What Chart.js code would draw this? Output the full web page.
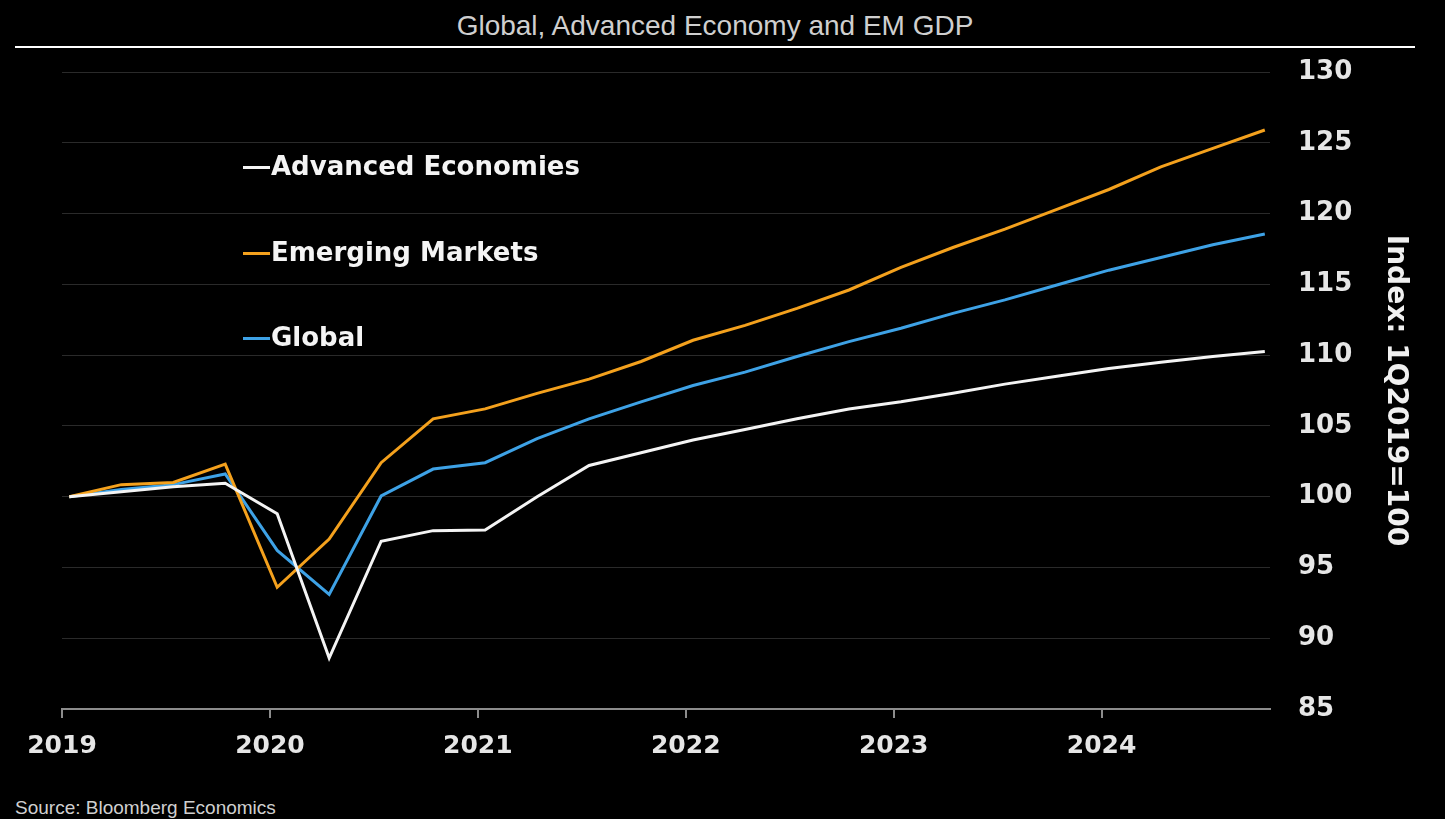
<!DOCTYPE html>
<html>
<head>
<meta charset="utf-8">
<script src="https://cdn.jsdelivr.net/npm/chart.js@4.4.1/dist/chart.umd.min.js"></script>
<style>
  body { margin: 0; background: #000; width: 1445px; height: 819px; overflow: hidden; position: relative; }
  #title { position: absolute; left: 15px; top: 0; width: 1400px; height: 46px; text-align: center;
           border-bottom: 2px solid #fff; color: #cfcfcf; font: 28px "Liberation Sans", Arial, sans-serif; line-height: 52px; }
  #wrap { position: absolute; left: 0; top: 50px; width: 1445px; height: 719px; }
  #source { position: absolute; left: 15px; top: 797px; color: #d0d0d0; font: 19px "Liberation Sans", Arial, sans-serif; line-height: 22px; }
  .leg { position: absolute; left: 243px; height: 30px; color: #f4f4f4;
         font: bold 26px "DejaVu Sans", Verdana, sans-serif; line-height: 30px; white-space: nowrap; }
  .leg i { display: inline-block; width: 27px; height: 3px; vertical-align: middle; margin-right: 1px; }
</style>
</head>
<body>
<div id="title">Global, Advanced Economy and EM GDP</div>
<div id="wrap"><canvas id="gdpChart"></canvas></div>
<div id="legend"></div>
<div id="source">Source: Bloomberg Economics</div>
<script>
// trimestres 1Q2019 .. 4Q2024
const quarters = ['1Q19','2Q19','3Q19','4Q19','1Q20','2Q20','3Q20','4Q20','1Q21','2Q21','3Q21','4Q21',
                  '1Q22','2Q22','3Q22','4Q22','1Q23','2Q23','3Q23','4Q23','1Q24','2Q24','3Q24','4Q24'];
const advanced = [100, 100.35, 100.7, 100.95, 98.8, 88.6, 96.85, 97.6, 97.65, 100.0, 102.2, 103.1,
                  104.0, 104.75, 105.5, 106.2, 106.7, 107.3, 107.95, 108.5, 109.05, 109.5, 109.9, 110.25];
const emerging = [100, 100.85, 101.0, 102.3, 93.6, 97.0, 102.4, 105.5, 106.2, 107.3, 108.3, 109.55,
                  111.05, 112.1, 113.3, 114.6, 116.2, 117.6, 118.9, 120.3, 121.7, 123.3, 124.6, 125.9];
const globalGdp = [100, 100.5, 100.85, 101.6, 96.2, 93.1, 100.05, 101.95, 102.4, 104.1, 105.5, 106.7,
                   107.85, 108.8, 109.9, 110.95, 111.9, 112.95, 113.9, 114.95, 116.0, 116.9, 117.8, 118.55];
const yearTicks = [2019, 2020, 2021, 2022, 2023, 2024];

// posição do trimestre no eixo em anos (ponto plotado um pouco depois do início do trimestre)
function qx(label) {
  const q = Number(label[0]);
  const year = 2000 + Number(label.slice(2));
  return year + (q - 1) / 4 + 0.035;
}
const pts = vals => vals.map((v, i) => ({ x: qx(quarters[i]), y: v }));

const boldFont = { family: '"DejaVu Sans", Verdana, sans-serif', size: 25, weight: 'bold' };

const ctx = document.getElementById('gdpChart').getContext('2d');
const chart = new Chart(ctx, {
  type: 'line',
  data: {
    datasets: [
      { label: 'Advanced Economies', data: pts(advanced), borderColor: '#f4f4f4' },
      { label: 'Emerging Markets', data: pts(emerging), borderColor: '#f4a11d' },
      { label: 'Global', data: pts(globalGdp), borderColor: '#3ea2e6' }
    ]
  },
  options: {
    responsive: true,
    maintainAspectRatio: false,
    animation: false,
    datasets: { line: { borderWidth: 3, pointRadius: 0, tension: 0, fill: false } },
    layout: { padding: { top: 22, left: 62, right: 0, bottom: 0 } },
    plugins: { legend: { display: false }, tooltip: { enabled: false } },
    scales: {
      x: {
        type: 'linear', min: yearTicks[0], max: 2024.81,
        ticks: {
          stepSize: 1, includeBounds: false, autoSkip: false, maxRotation: 0,
          color: '#e6e6e6', font: boldFont, padding: 13,
          callback: v => yearTicks.includes(v) ? String(v) : ''
        },
        grid: { drawOnChartArea: false, drawTicks: true, tickLength: 9, color: '#8c8c8c', lineWidth: 2 },
        border: { display: true, color: '#8c8c8c', width: 2 },
        afterFit: s => { s.height = 60; }
      },
      y: {
        position: 'right', min: 85, max: 130,
        ticks: { stepSize: 5, color: '#e6e6e6', font: { ...boldFont, size: 26 }, padding: 28 },
        grid: { color: '#2a2a2a', lineWidth: 1, drawTicks: false },
        border: { display: false },
        title: { display: true, text: 'Index: 1Q2019=100', color: '#f0f0f0', font: { ...boldFont, size: 28 }, padding: { top: 33 } },
        // largura fixa e sem folga extra acima do rótulo 130
        afterFit: s => { s.width = 175; s.paddingTop = 16; s.paddingBottom = 16; }
      }
    }
  }
});

// legenda dentro da área do gráfico
const legendTops = [151, 237, 322];
chart.data.datasets.forEach((ds, i) => {
  const item = document.createElement('div');
  item.className = 'leg';
  item.style.top = legendTops[i] + 'px';
  item.innerHTML = '<i style="background:' + ds.borderColor + '"></i>' + ds.label;
  document.getElementById('legend').appendChild(item);
});
</script>
</body>
</html>
